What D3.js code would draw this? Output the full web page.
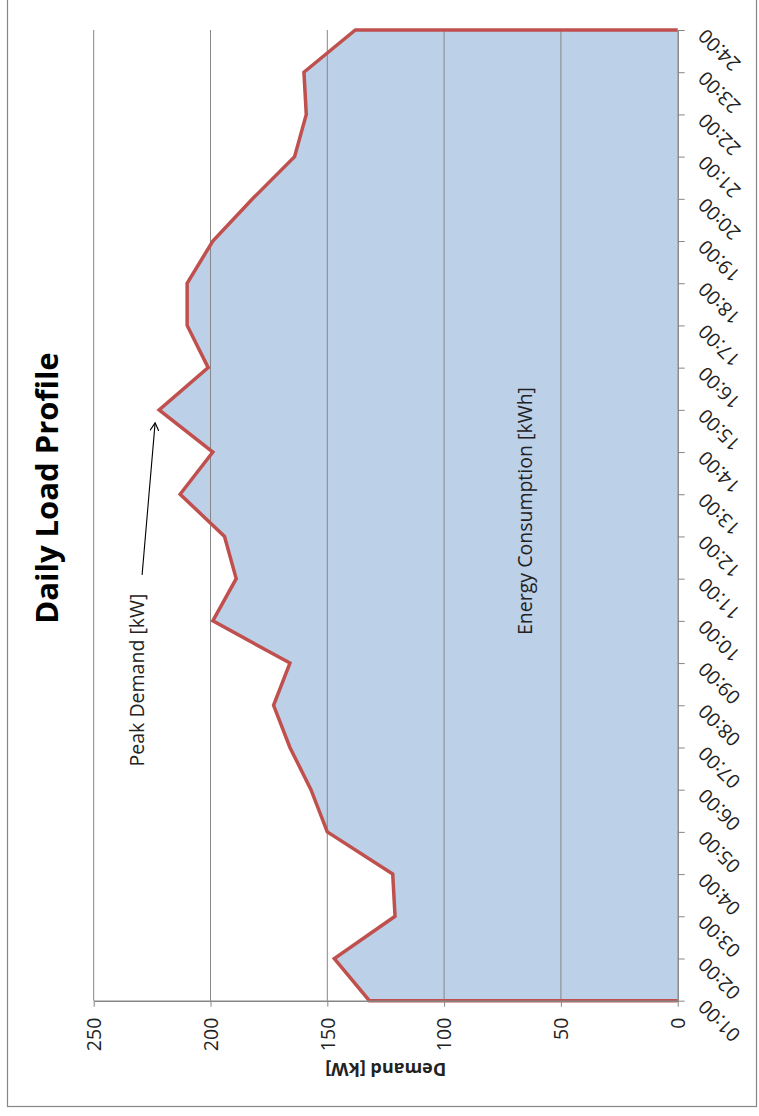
<!DOCTYPE html>
<html>
<head>
<meta charset="utf-8">
<script src="https://cdn.jsdelivr.net/npm/d3@7"></script>
<style>
  body { margin: 0; background: #fff; }
  svg { display: block; font-family: "Open Sans", sans-serif; }
</style>
</head>
<body>
<svg width="759" height="1116"></svg>
<script>
// chart is drawn turned 90deg counter-clockwise: time runs bottom -> top, demand right -> left
const hours = ["01:00", "02:00", "03:00", "04:00", "05:00", "06:00", "07:00", "08:00",
    "09:00", "10:00", "11:00", "12:00", "13:00", "14:00", "15:00", "16:00",
    "17:00", "18:00", "19:00", "20:00", "21:00", "22:00", "23:00", "24:00"];
const demandKW = [132, 147, 121, 122, 150, 157, 166, 173, 166, 199, 189, 194,
    213, 199, 222, 201, 210, 210, 199, 182, 164, 159, 160, 138];
const demandTicks = [0, 50, 100, 150, 200, 250];

const plot = { left: 93.7, right: 677.7, top: 30, bottom: 1000.7 };
const gridColor = "#868686";

const svg = d3.select("svg");

// outer chart border
svg.append("rect")
    .attr("x", 7.5).attr("y", -10)
    .attr("width", 749).attr("height", 1116.5)
    .attr("fill", "#fff")
    .attr("stroke", gridColor)
    .attr("stroke-width", 1.2);

const xDemand = d3.scaleLinear().domain([0, 250]).range([plot.right, plot.left]);
const yTime = d3.scalePoint().domain(hours).range([plot.bottom, plot.top]);

const data = hours.map((h, i) => ({ hour: h, kw: demandKW[i] }));

// area (energy consumption)
svg.append("path")
    .datum(data)
    .attr("fill", "#bcd0e8")
    .attr("d", d3.area()
        .y(d => yTime(d.hour))
        .x0(xDemand(0))
        .x1(d => xDemand(d.kw)));

// gridlines
svg.append("g")
    .selectAll("line")
    .data(demandTicks.filter(d => d > 0))
    .enter().append("line")
    .attr("x1", d => xDemand(d)).attr("x2", d => xDemand(d))
    .attr("y1", plot.top).attr("y2", plot.bottom)
    .attr("stroke", gridColor)
    .attr("stroke-width", 1);

// red outline of the area
const outline = [{ hour: hours[0], kw: 0 }, ...data, { hour: hours[hours.length - 1], kw: 0 }];
svg.append("path")
    .datum(outline)
    .attr("fill", "none")
    .attr("stroke", "#c0504d")
    .attr("stroke-width", 3.5)
    .attr("stroke-linejoin", "miter")
    .attr("d", d3.line()
        .x(d => xDemand(d.kw))
        .y(d => yTime(d.hour)));

// time axis (right side)
const timeAxis = svg.append("g")
    .attr("transform", `translate(${plot.right},0)`)
    .call(d3.axisRight(yTime).tickSize(7).tickSizeOuter(0));
timeAxis.select(".domain").attr("stroke", gridColor).attr("stroke-width", 1.5);
timeAxis.selectAll(".tick line").attr("stroke", gridColor);
timeAxis.selectAll(".tick text")
    .attr("x", 0).attr("y", 0).attr("dy", "0.35em")
    .attr("text-anchor", "end")
    .attr("transform", "translate(24,2) rotate(-135)")
    .attr("font-family", "Open Sans")
    .attr("font-size", 19.5)
    .attr("fill", "#222");

// demand axis (bottom)
const demandAxis = svg.append("g")
    .attr("transform", `translate(0,${plot.bottom})`)
    .call(d3.axisBottom(xDemand).tickValues(demandTicks).tickSize(6).tickSizeOuter(0));
demandAxis.select(".domain").attr("stroke", gridColor).attr("stroke-width", 1.5);
demandAxis.selectAll(".tick line").attr("stroke", gridColor);
demandAxis.selectAll(".tick text")
    .attr("x", 0).attr("y", 0).attr("dy", "0.35em")
    .attr("text-anchor", "end")
    .attr("transform", "translate(0,17) rotate(-90)")
    .attr("font-family", "Open Sans")
    .attr("font-size", 19.5)
    .attr("fill", "#222");

// axis title
svg.append("text")
    .attr("transform", `translate(${(plot.left + plot.right) / 2},1069) rotate(180)`)
    .attr("dy", "0.35em")
    .attr("text-anchor", "middle")
    .attr("font-weight", "bold")
    .attr("font-size", 18)
    .attr("fill", "#222")
    .text("Demand [kW]");

// chart title
svg.append("text")
    .attr("transform", "translate(47,488) rotate(-90)")
    .attr("dy", "0.35em")
    .attr("text-anchor", "middle")
    .attr("font-weight", "bold")
    .attr("font-size", 31)
    .attr("fill", "#000")
    .text("Daily Load Profile");

// annotations
svg.append("text")
    .attr("transform", "translate(525,511) rotate(-90)")
    .attr("dy", "0.35em")
    .attr("text-anchor", "middle")
    .attr("font-size", 19.5)
    .attr("fill", "#222")
    .text("Energy Consumption [kWh]");

svg.append("text")
    .attr("transform", "translate(137,680) rotate(-90)")
    .attr("dy", "0.35em")
    .attr("text-anchor", "middle")
    .attr("font-size", 19.5)
    .attr("fill", "#222")
    .text("Peak Demand [kW]");

// arrow to the peak
const peakIdx = demandKW.indexOf(d3.max(demandKW));
const px = xDemand(demandKW[peakIdx]);
const py = yTime(hours[peakIdx]);

svg.append("defs").append("marker")
    .attr("id", "head")
    .attr("viewBox", "0 0 10 10")
    .attr("refX", 9).attr("refY", 5)
    .attr("markerWidth", 9).attr("markerHeight", 9)
    .attr("markerUnits", "userSpaceOnUse")
    .attr("orient", "auto")
    .append("path")
    .attr("d", "M0,0 L9,5 L0,10")
    .attr("fill", "none")
    .attr("stroke", "#000")
    .attr("stroke-width", 1.3);

svg.append("line")
    .attr("x1", px - 17).attr("y1", py + 165)
    .attr("x2", px - 4).attr("y2", py + 13)
    .attr("stroke", "#000")
    .attr("stroke-width", 1.1)
    .attr("marker-end", "url(#head)");
</script>
</body>
</html>
